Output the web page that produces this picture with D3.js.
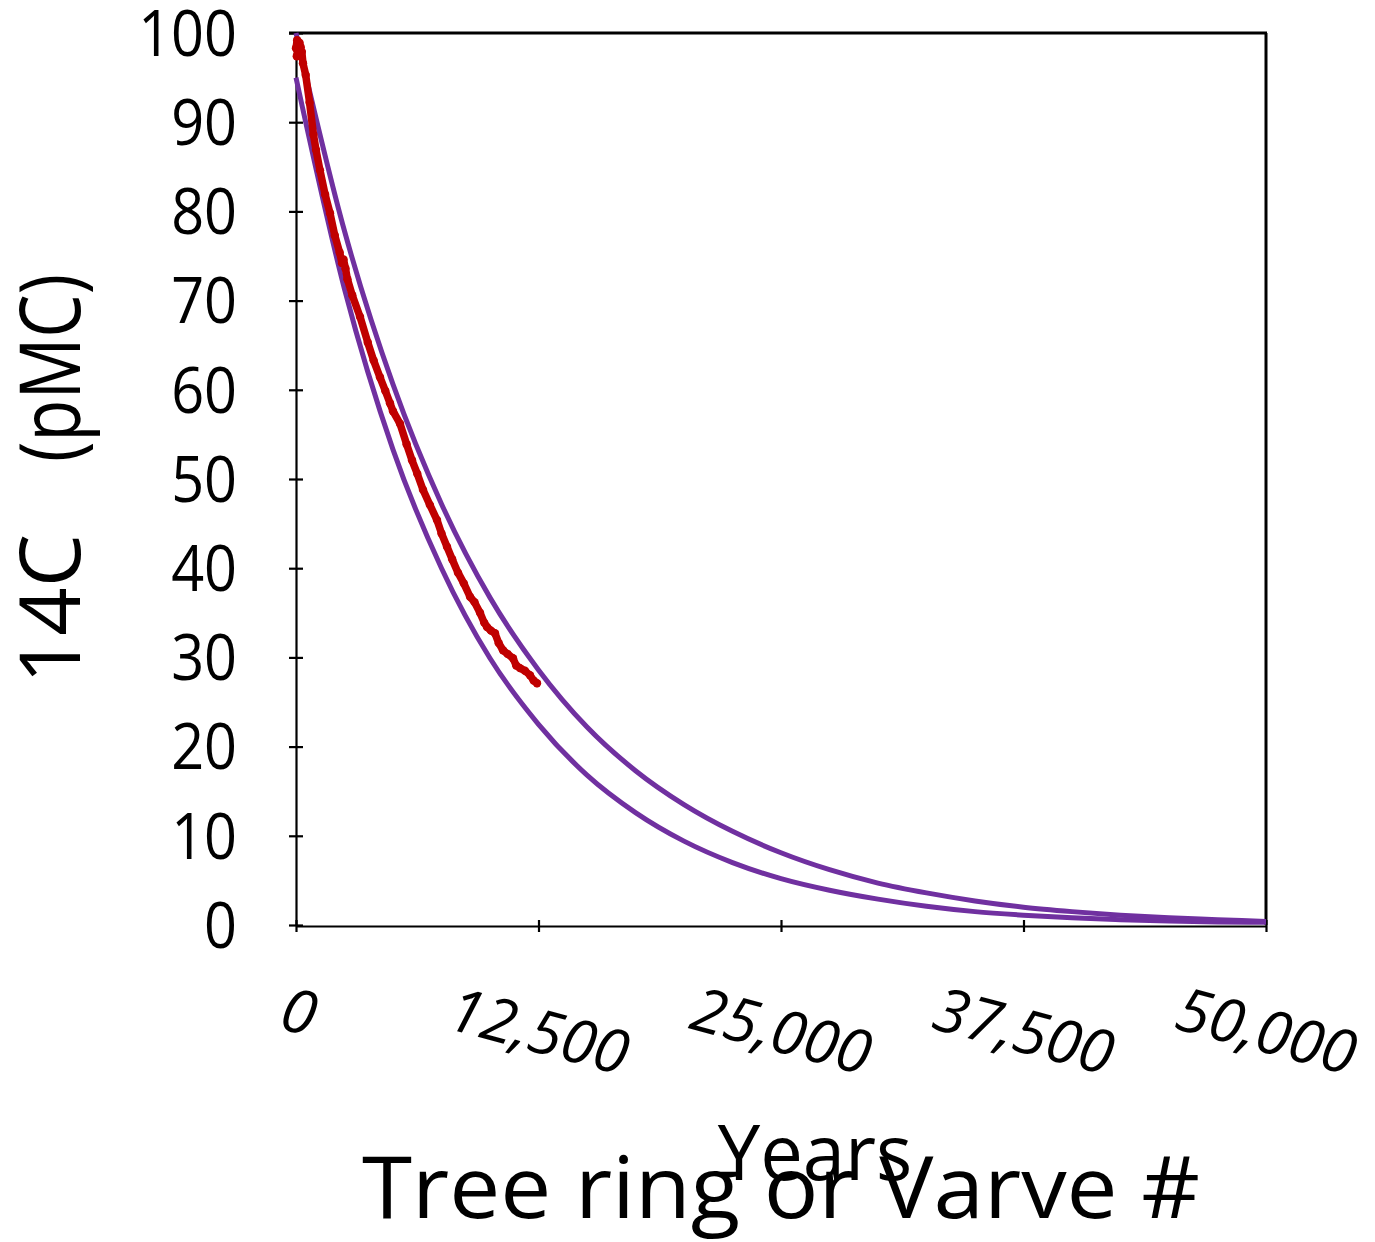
<!DOCTYPE html>
<html><head><meta charset="utf-8">
<script src="https://cdn.jsdelivr.net/npm/d3@7"></script>
<style>html,body{margin:0;padding:0;background:#fff;}svg{display:block;}</style>
</head><body>
<svg id="chart" width="1375" height="1242"></svg>
<script>
// ---- data ----
const years = [0,2500,5000,7500,10000,12500,15000,17500,20000,22500,25000,27500,30000,32500,35000,37500,40000,42500,45000,47500,50000];
const upperCurve = [100,77.8,60.6,47.2,36.7,28.6,22.2,17.3,13.5,10.5,8.1,6.2,4.7,3.6,2.7,2.0,1.5,1.1,0.8,0.6,0.4];
const lowerCurve = [95,71.3,53.3,40.0,29.9,22.5,16.8,12.6,9.4,7.0,5.2,3.9,2.9,2.1,1.5,1.1,0.8,0.6,0.45,0.35,0.3];
const treeRingYears = [0,60,120,40,100,180,240,200,300,360,500,700,900,1031,1237,1500,1753,2000,2250,2371,2450,2550,2650,2900,3299,3700,4000,4330,4600,4845,5000,5361,5700,5980,6250,6546,6900,7268,7500,7784,8050,8350,8650,8970,9200,9485,9700,9845,10050,10258,10450,10670,10900,11186,11350,11546,11800,12062,12250,12423];
const treeRingPmc = [98.3,99.2,98.6,97.4,97.9,98.9,98.4,97.6,97.9,96.6,95.3,92.2,88.6,86.9,84.6,81.9,79.8,77.3,75.4,74.2,74.6,73.6,72.4,70.6,68.2,65.3,63.3,61.4,59.9,58.5,57.6,56.2,53.9,52.1,50.6,48.8,47.1,45.4,43.9,42.4,41.0,39.5,38.3,36.8,36.2,35.0,33.9,33.4,33.0,32.7,31.6,30.8,30.4,29.9,29.1,28.8,28.5,28.0,27.4,27.1];
const yTicks = [0,10,20,30,40,50,60,70,80,90,100];
const xTicks = [0,12500,25000,37500,50000];
const xTickLabels = ["0","12,500","25,000","37,500","50,000"];
const yTitleA = "14C";
const yTitleB = "(pMC)";
const xTitleSmall = "Years";
const xTitleBig = "Tree ring or Varve #";

// ---- layout ----
const svg = d3.select("#chart");
const L = 296, R = 1266, T = 33, B = 925;
const x = d3.scaleLinear().domain([0,50000]).range([L,R]);
const y = d3.scaleLinear().domain([0,100]).range([B,T]);
const FONT = "'Open Sans', 'Noto Sans', sans-serif";

// frame: top and right
svg.append("line").attr("x1",L-7).attr("x2",R+1).attr("y1",T).attr("y2",T)
  .attr("stroke","#000").attr("stroke-width",3);
svg.append("line").attr("x1",R).attr("x2",R).attr("y1",T).attr("y2",B)
  .attr("stroke","#000").attr("stroke-width",3);

// y axis with cross ticks
const yAxis = d3.axisLeft(y).tickValues(yTicks).tickSizeInner(7).tickSizeOuter(0).tickFormat("");
const gy = svg.append("g").attr("transform",`translate(${L},0)`).call(yAxis);
gy.select(".domain").attr("stroke","#000").attr("stroke-width",2.2);
gy.selectAll(".tick line").attr("x1",-7).attr("x2",7).attr("stroke","#000").attr("stroke-width",2.2);

// x axis with cross ticks
const xAxis = d3.axisBottom(x).tickValues(xTicks).tickSizeInner(6).tickSizeOuter(0).tickFormat("");
const gx = svg.append("g").attr("transform",`translate(0,${B+1})`).call(xAxis);
gx.select(".domain").attr("stroke","#000").attr("stroke-width",2.2);
gx.selectAll(".tick line").attr("y1",-6).attr("y2",6).attr("stroke","#000").attr("stroke-width",2.2);

// y tick labels (slightly condensed)
const yFs = 64;
svg.append("g").selectAll("text").data(yTicks).join("text")
  .attr("x",237).attr("y",d=>y(d)+yFs*0.357)
  .attr("text-anchor","end").attr("font-family",FONT).attr("font-size",yFs)
  .attr("fill","#000").text(d=>d)
  .each(function(){
    const w = this.getComputedTextLength();
    d3.select(this).attr("textLength",w*0.9).attr("lengthAdjust","spacingAndGlyphs");
  });

// x tick labels (italic, rotated)
const xFs = 61;
const xl = svg.append("g");
xTicks.forEach((v,i)=>{
  const t = xl.append("text").attr("font-family",FONT).attr("font-size",xFs)
    .attr("font-style","italic").attr("fill","#000").text(xTickLabels[i]);
  const w = t.node().getComputedTextLength();
  const x0 = x(v) - w/2 - 2, y0 = 1028;
  t.attr("x",x0).attr("y",y0).attr("transform",`rotate(15,${x0},${y0})`);
});

// curves
const line = d3.line().x(d=>x(d[0])).y(d=>y(d[1])).curve(d3.curveMonotoneX);
svg.append("path").datum(years.map((t,i)=>[t,lowerCurve[i]])).attr("d",line)
  .attr("fill","none").attr("stroke","#7030A0").attr("stroke-width",5);
svg.append("path").datum(years.map((t,i)=>[t,upperCurve[i]])).attr("d",line)
  .attr("fill","none").attr("stroke","#7030A0").attr("stroke-width",5);

// tree ring data
const redLine = d3.line().x(d=>x(d[0])).y(d=>y(d[1])).curve(d3.curveLinear);
const redData = treeRingYears.map((t,i)=>[t,treeRingPmc[i]]);
svg.append("path").datum(redData).attr("d",redLine)
  .attr("fill","none").attr("stroke","#C00000").attr("stroke-width",7.5)
  .attr("stroke-linejoin","round").attr("stroke-linecap","round");
svg.append("g").selectAll("circle").data(redData).join("circle")
  .attr("cx",d=>x(d[0])).attr("cy",d=>y(d[1])).attr("r",4.2)
  .attr("fill","#C00000");

// axis titles
svg.append("text").attr("x",781).attr("y",1218).attr("text-anchor","middle")
  .attr("font-family",FONT).attr("font-size",86).attr("fill","#000")
  .attr("textLength",838).attr("lengthAdjust","spacingAndGlyphs").text(xTitleBig);
svg.append("text").attr("x",815).attr("y",1180).attr("text-anchor","middle")
  .attr("font-family",FONT).attr("font-size",76).attr("fill","#000").text(xTitleSmall);
svg.append("text").attr("transform","translate(80,684) rotate(-90)")
  .attr("font-family",FONT).attr("font-size",84).attr("fill","#000")
  .attr("textLength",150).attr("lengthAdjust","spacingAndGlyphs").text(yTitleA);
svg.append("text").attr("transform","translate(80,462) rotate(-90)")
  .attr("font-family",FONT).attr("font-size",84).attr("fill","#000")
  .attr("textLength",188).attr("lengthAdjust","spacingAndGlyphs").text(yTitleB);
</script>
</body></html>
